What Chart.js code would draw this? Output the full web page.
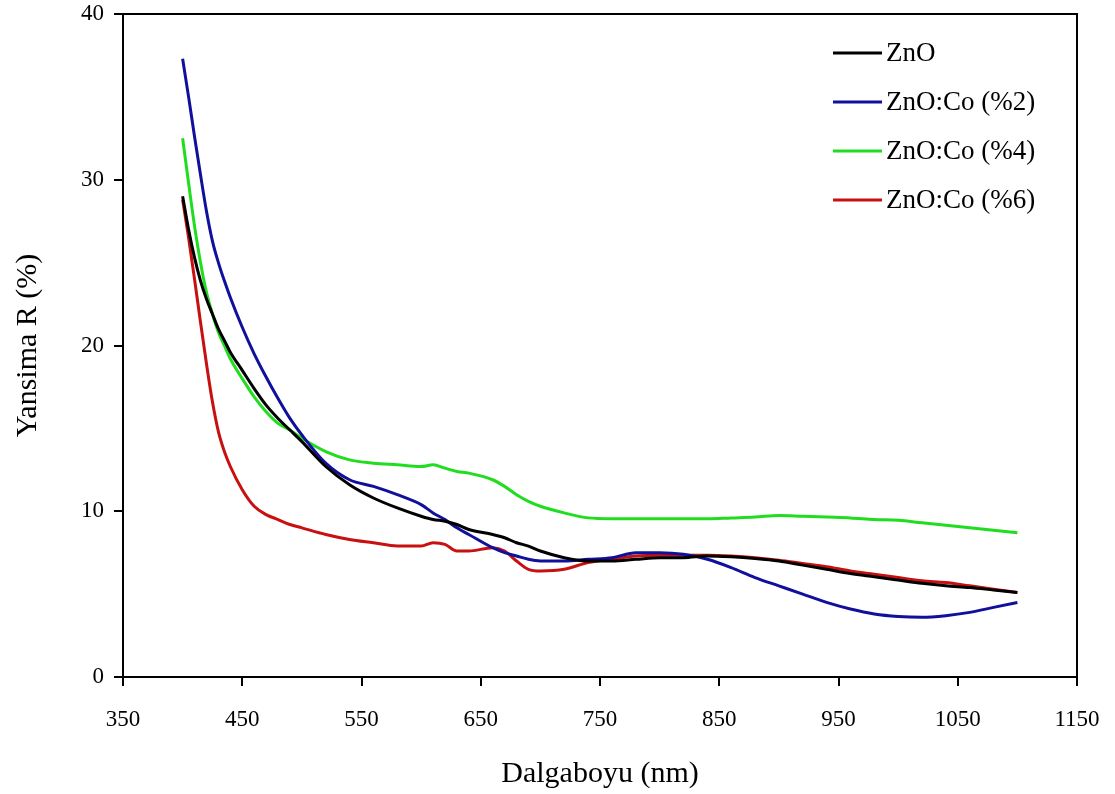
<!DOCTYPE html>
<html>
<head>
<meta charset="utf-8">
<script src="https://cdn.jsdelivr.net/npm/chart.js@4/dist/chart.umd.min.js"></script>
<style>
  html, body { margin: 0; padding: 0; background: #fff; }
  #wrap { width: 1115px; height: 794px; }
</style>
</head>
<body>
<div id="wrap"><canvas id="chart"></canvas></div>
<script>
// wavelength (nm)
const wavelengths = [400, 405, 410, 415, 420, 425, 430, 435, 440, 450, 460, 470, 480, 490, 500, 520, 540, 560, 580, 600, 610, 620, 630, 640, 660, 670, 680, 690, 700, 720, 740, 760, 780, 800, 820, 840, 860, 880, 900, 920, 940, 960, 980, 1000, 1020, 1040, 1060, 1080, 1100];

// reflectance R (%) for each sample
const znO = [29.0, 27.0, 25.3, 23.9, 22.8, 21.9, 21.0, 20.3, 19.6, 18.5, 17.4, 16.4, 15.6, 14.9, 14.2, 12.7, 11.6, 10.8, 10.2, 9.7, 9.5, 9.4, 9.2, 8.9, 8.6, 8.4, 8.1, 7.9, 7.6, 7.2, 7.0, 7.0, 7.1, 7.2, 7.2, 7.3, 7.25, 7.15, 7.0, 6.75, 6.5, 6.25, 6.05, 5.85, 5.65, 5.5, 5.4, 5.25, 5.1];
const co2 = [37.3, 35.0, 32.6, 30.3, 28.1, 26.3, 25.0, 23.9, 22.9, 21.1, 19.5, 18.1, 16.8, 15.6, 14.6, 12.9, 11.9, 11.5, 11.0, 10.4, 9.9, 9.5, 9.0, 8.6, 7.8, 7.5, 7.3, 7.1, 7.0, 7.0, 7.1, 7.2, 7.5, 7.5, 7.4, 7.1, 6.6, 6.0, 5.5, 5.0, 4.5, 4.1, 3.8, 3.65, 3.6, 3.7, 3.9, 4.2, 4.5];
const co4 = [32.5, 29.8, 27.2, 25.0, 23.2, 21.9, 20.8, 20.0, 19.2, 18.0, 16.9, 16.0, 15.3, 14.9, 14.4, 13.6, 13.1, 12.9, 12.8, 12.7, 12.8, 12.6, 12.4, 12.3, 11.9, 11.5, 11.0, 10.6, 10.3, 9.9, 9.6, 9.55, 9.55, 9.55, 9.55, 9.55, 9.6, 9.65, 9.75, 9.7, 9.65, 9.6, 9.5, 9.45, 9.3, 9.15, 9.0, 8.85, 8.7];
const co6 = [28.8, 26.5, 24.0, 21.4, 18.9, 16.6, 14.8, 13.6, 12.7, 11.3, 10.3, 9.8, 9.5, 9.2, 9.0, 8.6, 8.3, 8.1, 7.9, 7.9, 8.1, 8.0, 7.6, 7.6, 7.8, 7.6, 7.0, 6.5, 6.4, 6.5, 6.9, 7.1, 7.3, 7.35, 7.35, 7.35, 7.3, 7.2, 7.05, 6.85, 6.65, 6.4, 6.2, 6.0, 5.8, 5.7, 5.5, 5.3, 5.1];

const seriesLabels = ['ZnO', 'ZnO:Co (%2)', 'ZnO:Co (%4)', 'ZnO:Co (%6)'];
const seriesColors = ['#000000', '#10109c', '#20dd20', '#c81010'];
const seriesValues = [znO, co2, co4, co6];

const FONT = '"Liberation Serif", "Times New Roman", serif';

function toPoints(values) {
  return values.map((v, i) => ({x: wavelengths[i], y: v}));
}

// box around the plot plus the legend in the top right corner
const framePlugin = {
  id: 'frame',
  afterDraw(chart) {
    const ctx = chart.ctx;
    const a = chart.chartArea;
    ctx.save();
    ctx.strokeStyle = '#000';
    ctx.lineWidth = 2;
    ctx.beginPath();
    ctx.moveTo(a.left, a.top);
    ctx.lineTo(a.right, a.top);
    ctx.lineTo(a.right, a.bottom);
    ctx.stroke();

    ctx.font = '27px ' + FONT;
    ctx.textBaseline = 'middle';
    ctx.fillStyle = '#000';
    chart.data.datasets.forEach((ds, i) => {
      let y = 53 + i * 49;
      ctx.strokeStyle = ds.borderColor;
      ctx.lineWidth = 3;
      ctx.beginPath();
      ctx.moveTo(833, y);
      ctx.lineTo(882, y);
      ctx.stroke();
      ctx.fillText(ds.label, 886, y + 1);
    });
    ctx.restore();
  }
};

new Chart(document.getElementById('chart'), {
  type: 'line',
  data: {
    datasets: seriesLabels.map((label, i) => ({
      label: label,
      data: toPoints(seriesValues[i]),
      borderColor: seriesColors[i],
      backgroundColor: seriesColors[i],
      borderWidth: 3,
      pointRadius: 0,
      tension: 0.3,
      cubicInterpolationMode: 'monotone',
      fill: false
    }))
  },
  options: {
    responsive: true,
    maintainAspectRatio: false,
    animation: false,
    layout: { autoPadding: false, padding: { top: 14, right: 38, left: 0, bottom: 0 } },
    plugins: {
      legend: { display: false },
      tooltip: { enabled: false }
    },
    scales: {
      x: {
        type: 'linear',
        min: 350,
        max: 1150,
        afterFit(scale) {
          scale.height = 117;
          scale.paddingLeft = 0;
          scale.paddingRight = 0;
        },
        ticks: { stepSize: 100, color: '#000', padding: 20, font: { family: FONT, size: 23 }, callback: v => String(v) },
        grid: { drawOnChartArea: false, drawTicks: true, tickLength: 9, color: '#000', lineWidth: 2 },
        border: { display: true, color: '#000', width: 2 },
        title: { display: true, text: 'Dalgaboyu (nm)', color: '#000', padding: { top: 0, bottom: 2 }, font: { family: FONT, size: 30 } }
      },
      y: {
        min: 0,
        max: 40,
        afterFit(scale) {
          scale.width = 123;
          scale.paddingTop = 0;
          scale.paddingBottom = 0;
        },
        ticks: { stepSize: 10, color: '#000', padding: 10, font: { family: FONT, size: 23 }, callback: v => String(v) },
        grid: { drawOnChartArea: false, drawTicks: true, tickLength: 9, color: '#000', lineWidth: 2 },
        border: { display: true, color: '#000', width: 2 },
        title: { display: true, text: 'Yansima R (%)', color: '#000', padding: { top: 10, bottom: 0 }, font: { family: FONT, size: 30 } }
      }
    }
  },
  plugins: [framePlugin]
});
</script>
</body>
</html>
